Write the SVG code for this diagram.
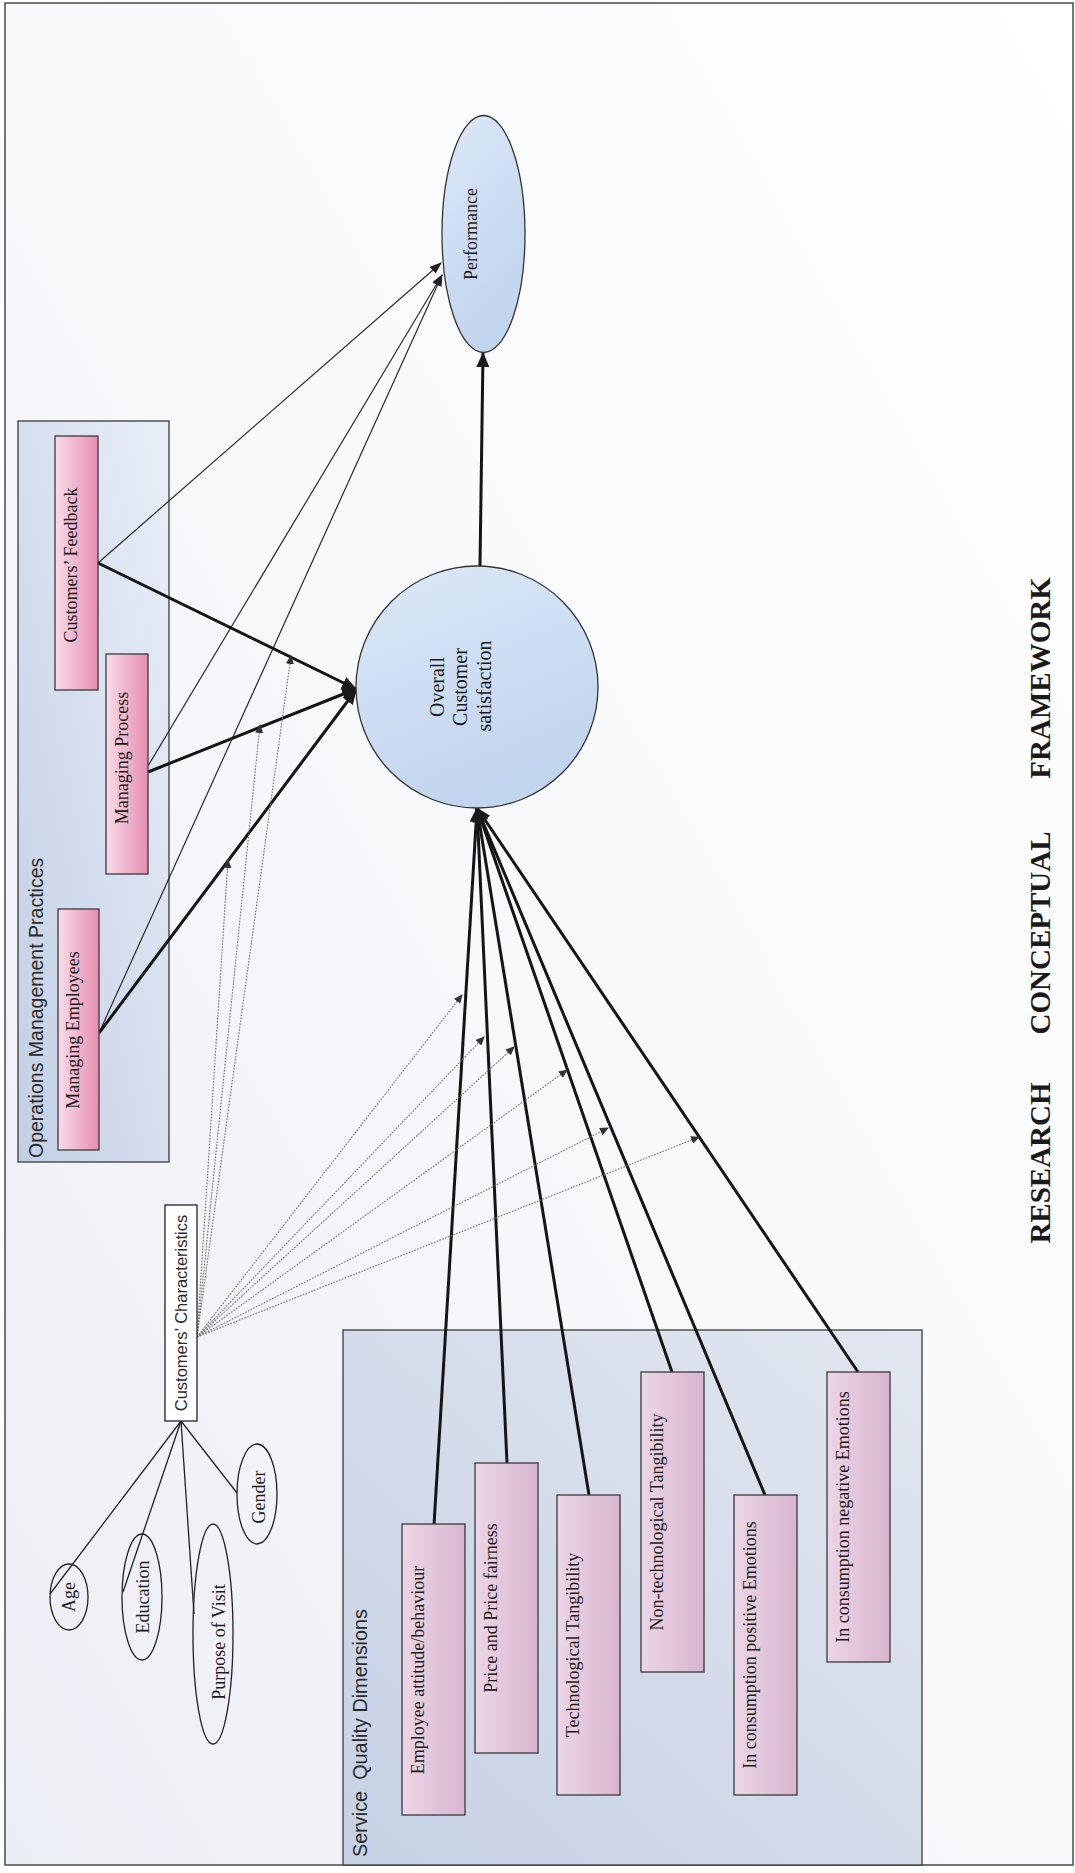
<svg xmlns="http://www.w3.org/2000/svg" width="1075" height="1873" viewBox="0 0 1075 1873">
<defs>
<linearGradient id="bg" x1="1" y1="0" x2="0" y2="1"><stop offset="0" stop-color="#ffffff"/><stop offset="0.5" stop-color="#f8f9fb"/><stop offset="1" stop-color="#eceef5"/></linearGradient>
<linearGradient id="opsBox" x1="1" y1="0" x2="0" y2="1"><stop offset="0" stop-color="#e9eff8"/><stop offset="1" stop-color="#c3cfe5"/></linearGradient>
<linearGradient id="sqdBox" x1="0" y1="1" x2="1" y2="0"><stop offset="0" stop-color="#c6d1e5"/><stop offset="1" stop-color="#e2e7f0"/></linearGradient>
<linearGradient id="pinkOps" x1="0" y1="0" x2="1" y2="0"><stop offset="0" stop-color="#f8dce8"/><stop offset="1" stop-color="#e68db0"/></linearGradient>
<linearGradient id="pinkSqd" x1="0" y1="0" x2="1" y2="0"><stop offset="0" stop-color="#ecd6e6"/><stop offset="1" stop-color="#d8b5cf"/></linearGradient>
<linearGradient id="blueNode" x1="0" y1="0" x2="0.4" y2="1"><stop offset="0" stop-color="#dbe8f7"/><stop offset="1" stop-color="#c2d5ee"/></linearGradient>
<marker id="ahThick" markerUnits="userSpaceOnUse" markerWidth="15" markerHeight="13" refX="14" refY="6.5" orient="auto"><path d="M0,0 L15,6.5 L0,13 z" fill="#1a1a1a"/></marker>
<marker id="ahThin" markerUnits="userSpaceOnUse" markerWidth="12" markerHeight="9" refX="11" refY="4.5" orient="auto"><path d="M0,0 L12,4.5 L0,9 z" fill="#222"/></marker>
<marker id="ahDot" markerUnits="userSpaceOnUse" markerWidth="9" markerHeight="8" refX="8" refY="4" orient="auto"><path d="M0,0 L9,4 L0,8 z" fill="#333"/></marker>
</defs>
<style>
.frame{fill:url(#bg);stroke:#4a4a4a;stroke-width:1.5}
.grp{stroke:#3a3a3a;stroke-width:1.3}
.pk1{fill:url(#pinkOps);stroke:#3a3a3a;stroke-width:1.3}
.pk2{fill:url(#pinkSqd);stroke:#3a3a3a;stroke-width:1.3}
.blue{fill:url(#blueNode);stroke:#333;stroke-width:1.3}
.ell{fill:none;stroke:#222;stroke-width:1.3}
.serif{font-family:"Liberation Serif","Times New Roman",serif;fill:#1a1a1a}
.sans{font-family:"Liberation Sans",Arial,sans-serif;fill:#2a2a2a}
.lbl{font-size:18px;text-anchor:middle}
.thick{stroke:#151515;stroke-width:3;fill:none;marker-end:url(#ahThick)}
.thin{stroke:#2a2a2a;stroke-width:1.2;fill:none;marker-end:url(#ahThin)}
.dot{stroke:#707070;stroke-width:1.1;stroke-dasharray:1.6 1.4;fill:none;marker-end:url(#ahDot)}
.plain{stroke:#222;stroke-width:1.3;fill:none}
</style>
<rect class="frame" x="5" y="3" width="1068" height="1862"/>

<g id="ops-group">
<rect class="grp" x="18" y="421" width="151" height="741" fill="url(#opsBox)"/>
<text class="sans" font-size="19.5" transform="translate(43,1158) rotate(-90)">Operations Management Practices</text>
</g>
<g id="sqd-group">
<rect class="grp" x="343" y="1330" width="579" height="535" fill="url(#sqdBox)"/>
<text class="sans" font-size="21" xml:space="preserve" textLength="248" lengthAdjust="spacingAndGlyphs" transform="translate(367,1857) rotate(-90)">Service  Quality Dimensions</text>
</g>

<g id="connectors">
<path class="thin" d="M98,563 L441,263"/>
<path class="thin" d="M148,766 L442,275"/>
<path class="thin" d="M99,1033 L442,275"/>
<path class="thick" d="M98,563 L356,689"/>
<path class="thick" d="M148,772 L356,689"/>
<path class="thick" d="M99,1033 L356,690"/>
<path class="thick" d="M480,566 L483,353"/>
<path class="thick" d="M434,1525 L477,808"/>
<path class="thick" d="M507,1463 L477,808"/>
<path class="thick" d="M589,1495 L477,808"/>
<path class="thick" d="M672,1372 L477,808"/>
<path class="thick" d="M765,1495 L477,808"/>
<path class="thick" d="M858,1372 L477,808"/>
<path class="dot" d="M197,1337 L291,656"/>
<path class="dot" d="M197,1337 L260,725"/>
<path class="dot" d="M197,1337 L228,860"/>
<path class="dot" d="M197,1337 L462,995"/>
<path class="dot" d="M197,1337 L484,1037"/>
<path class="dot" d="M197,1337 L514,1047"/>
<path class="dot" d="M197,1337 L567,1070"/>
<path class="dot" d="M197,1337 L608,1128"/>
<path class="dot" d="M197,1337 L699,1137"/>
<path class="plain" d="M181,1421 L50,1594"/>
<path class="plain" d="M181,1421 L123,1592"/>
<path class="plain" d="M181,1421 L194,1614"/>
<path class="plain" d="M181,1421 L237,1493"/>
</g>

<g id="customers-feedback">
<rect class="pk1" x="55" y="436" width="43" height="254"/>
<text class="serif lbl" transform="translate(77,565) rotate(-90)">Customers’ Feedback</text>
</g>
<g id="managing-process">
<rect class="pk1" x="106" y="654" width="42" height="220"/>
<text class="serif lbl" transform="translate(128,758) rotate(-90)">Managing Process</text>
</g>
<g id="managing-employees">
<rect class="pk1" x="58" y="909" width="41" height="241"/>
<text class="serif lbl" transform="translate(79,1030) rotate(-90)">Managing Employees</text>
</g>

<g id="overall-satisfaction">
<circle class="blue" cx="477" cy="687" r="121"/>
<text class="serif" font-size="20" text-anchor="middle" transform="translate(444,687) rotate(-90)">Overall</text>
<text class="serif" font-size="20" text-anchor="middle" transform="translate(467,687) rotate(-90)">Customer</text>
<text class="serif" font-size="20" text-anchor="middle" transform="translate(491,686) rotate(-90)">satisfaction</text>
</g>
<g id="performance">
<ellipse class="blue" cx="483.5" cy="234" rx="41.5" ry="118.5"/>
<text class="serif lbl" transform="translate(477,234) rotate(-90)">Performance</text>
</g>

<g id="customers-characteristics">
<rect x="165" y="1205" width="32" height="216" fill="#ffffff" stroke="#222" stroke-width="1.3"/>
<text class="sans" font-size="16.5" text-anchor="middle" transform="translate(187,1313) rotate(-90)">Customers’ Characteristics</text>
</g>
<g id="age">
<ellipse class="ell" cx="69" cy="1597" rx="19" ry="33"/>
<text class="serif lbl" transform="translate(75,1597) rotate(-90)">Age</text>
</g>
<g id="education">
<ellipse class="ell" cx="142" cy="1597" rx="20" ry="63"/>
<text class="serif lbl" transform="translate(149,1597) rotate(-90)">Education</text>
</g>
<g id="purpose-of-visit">
<ellipse class="ell" cx="213" cy="1634" rx="20" ry="110"/>
<text class="serif lbl" transform="translate(225,1642) rotate(-90)">Purpose of Visit</text>
</g>
<g id="gender">
<ellipse class="ell" cx="257" cy="1494" rx="20" ry="50"/>
<text class="serif lbl" transform="translate(265,1497) rotate(-90)">Gender</text>
</g>

<g id="employee-attitude">
<rect class="pk2" x="402" y="1524" width="63" height="291"/>
<text class="serif lbl" transform="translate(424,1670) rotate(-90)">Employee attitude/behaviour</text>
</g>
<g id="price-fairness">
<rect class="pk2" x="475" y="1463" width="63" height="290"/>
<text class="serif lbl" transform="translate(497,1608) rotate(-90)">Price and Price fairness</text>
</g>
<g id="technological-tangibility">
<rect class="pk2" x="557" y="1495" width="63" height="300"/>
<text class="serif lbl" transform="translate(579,1645) rotate(-90)">Technological Tangibility</text>
</g>
<g id="non-technological-tangibility">
<rect class="pk2" x="641" y="1372" width="63" height="300"/>
<text class="serif lbl" transform="translate(663,1522) rotate(-90)">Non-technological Tangibility</text>
</g>
<g id="positive-emotions">
<rect class="pk2" x="734" y="1495" width="63" height="300"/>
<text class="serif lbl" transform="translate(756,1645) rotate(-90)">In consumption positive Emotions</text>
</g>
<g id="negative-emotions">
<rect class="pk2" x="827" y="1372" width="63" height="290"/>
<text class="serif lbl" transform="translate(849,1517) rotate(-90)">In consumption negative Emotions</text>
</g>

<g id="title">
<text class="serif" font-size="29" font-weight="bold" text-anchor="middle" transform="translate(1050,1163) rotate(-90)">RESEARCH</text>
<text class="serif" font-size="29" font-weight="bold" text-anchor="middle" transform="translate(1050,933) rotate(-90)">CONCEPTUAL</text>
<text class="serif" font-size="29" font-weight="bold" text-anchor="middle" transform="translate(1050,678) rotate(-90)">FRAMEWORK</text>
</g>
</svg>
